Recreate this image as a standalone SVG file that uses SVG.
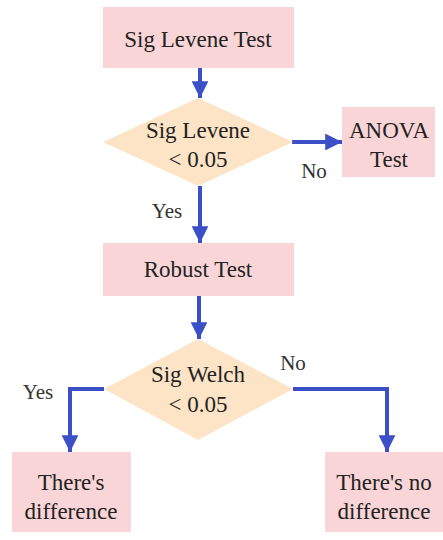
<svg xmlns="http://www.w3.org/2000/svg" width="443" height="540" viewBox="0 0 443 540" font-family="Times New Roman, Liberation Serif, serif">
<defs>
<style>
.box{fill:#f9d5d7}
.dia{fill:#fde4c6}
.c{fill:none;stroke:#3b4fc6;stroke-width:4}
</style>
<marker id="ah" viewBox="0 0 10 10" refX="10" refY="5" markerWidth="4.2" markerHeight="4.2" markerUnits="strokeWidth" orient="auto">
<path d="M0,0 L10,5 L0,10 z" fill="#3b4fc6"/>
</marker>
</defs>
<rect width="443" height="540" fill="#fff"/>
<g id="connectors">
<path class="c" d="M200,68 V98" marker-end="url(#ah)"/>
<path class="c" d="M292,142 H342" marker-end="url(#ah)"/>
<path class="c" d="M200,186 V243" marker-end="url(#ah)"/>
<path class="c" d="M199,296 V339" marker-end="url(#ah)"/>
<path class="c" d="M104,389 H70 V452" marker-end="url(#ah)"/>
<path class="c" d="M293,389 H387 V452" marker-end="url(#ah)"/>
<text font-family="Times New Roman, Liberation Serif, serif" font-size="21" fill="#333" text-anchor="middle" x="314" y="178">No</text>
<text font-family="Times New Roman, Liberation Serif, serif" font-size="21" fill="#333" text-anchor="middle" x="167" y="218">Yes</text>
<text font-family="Times New Roman, Liberation Serif, serif" font-size="21" fill="#333" text-anchor="middle" x="38" y="399">Yes</text>
<text font-family="Times New Roman, Liberation Serif, serif" font-size="21" fill="#333" text-anchor="middle" x="293" y="370">No</text>
</g>
<g id="n1">
<rect class="box" x="103" y="7" width="191" height="61"/>
<text font-family="Times New Roman, Liberation Serif, serif" font-size="23" fill="#222" text-anchor="middle" x="198" y="47">Sig Levene Test</text>
</g>
<g id="d1">
<polygon class="dia" points="198,98 293,142 198,186 103,142"/>
<text font-family="Times New Roman, Liberation Serif, serif" font-size="23" fill="#222" text-anchor="middle" x="198" y="138">Sig Levene</text>
<text font-family="Times New Roman, Liberation Serif, serif" font-size="23" fill="#222" text-anchor="middle" x="198" y="167">&lt; 0.05</text>
</g>
<g id="n2">
<rect class="box" x="342" y="107" width="93" height="70"/>
<text font-family="Times New Roman, Liberation Serif, serif" font-size="23" fill="#222" text-anchor="middle" x="389" y="138">ANOVA</text>
<text font-family="Times New Roman, Liberation Serif, serif" font-size="23" fill="#222" text-anchor="middle" x="389" y="167">Test</text>
</g>
<g id="n3">
<rect class="box" x="103" y="243" width="191" height="53"/>
<text font-family="Times New Roman, Liberation Serif, serif" font-size="23" fill="#222" text-anchor="middle" x="198" y="277">Robust Test</text>
</g>
<g id="d2">
<polygon class="dia" points="198,339 293,389 198,440 104,389"/>
<text font-family="Times New Roman, Liberation Serif, serif" font-size="23" fill="#222" text-anchor="middle" x="198" y="382">Sig Welch</text>
<text font-family="Times New Roman, Liberation Serif, serif" font-size="23" fill="#222" text-anchor="middle" x="198" y="412">&lt; 0.05</text>
</g>
<g id="n4">
<rect class="box" x="12" y="452" width="119" height="80"/>
<text font-family="Times New Roman, Liberation Serif, serif" font-size="23" fill="#222" text-anchor="middle" x="71" y="490">There's</text>
<text font-family="Times New Roman, Liberation Serif, serif" font-size="23" fill="#222" text-anchor="middle" x="71" y="519">difference</text>
</g>
<g id="n5">
<rect class="box" x="325" y="452" width="118" height="80"/>
<text font-family="Times New Roman, Liberation Serif, serif" font-size="23" fill="#222" text-anchor="middle" x="384" y="490">There's no</text>
<text font-family="Times New Roman, Liberation Serif, serif" font-size="23" fill="#222" text-anchor="middle" x="384" y="519">difference</text>
</g>
</svg>
